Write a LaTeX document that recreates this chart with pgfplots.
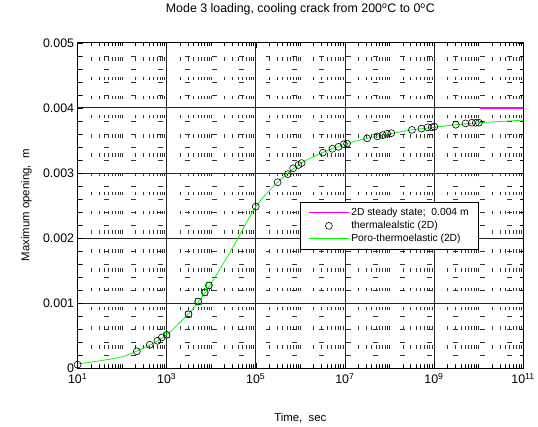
\documentclass[border=0pt]{standalone}
\usepackage{pgfplots}
\pgfplotsset{compat=1.18}
\usepackage{fontspec}
\setmainfont{Liberation Sans}
\definecolor{mymag}{RGB}{255,0,255}
\definecolor{mygrn}{RGB}{0,255,0}
\begin{document}
\begin{tikzpicture}
\begin{axis}[
  at={(0,0)}, anchor=south west,
  scale only axis, width=448bp, height=327bp,
  xmode=log, xmin=1e1, xmax=1e11, ymin=0, ymax=0.005,
  xtick={1e1,1e3,1e5,1e7,1e9,1e11},
  xticklabels={10\textsuperscript{1},10\textsuperscript{3},10\textsuperscript{5},10\textsuperscript{7},10\textsuperscript{9},10\textsuperscript{11}},
  minor xtick={2e1,3e1,4e1,5e1,6e1,7e1,8e1,9e1,1e2,2e2,3e2,4e2,5e2,6e2,7e2,8e2,9e2,
    2e3,3e3,4e3,5e3,6e3,7e3,8e3,9e3,1e4,2e4,3e4,4e4,5e4,6e4,7e4,8e4,9e4,
    2e5,3e5,4e5,5e5,6e5,7e5,8e5,9e5,1e6,2e6,3e6,4e6,5e6,6e6,7e6,8e6,9e6,
    2e7,3e7,4e7,5e7,6e7,7e7,8e7,9e7,1e8,2e8,3e8,4e8,5e8,6e8,7e8,8e8,9e8,
    2e9,3e9,4e9,5e9,6e9,7e9,8e9,9e9,1e10,2e10,3e10,4e10,5e10,6e10,7e10,8e10,9e10},
  ytick={0,0.001,0.002,0.003,0.004,0.005},
  yticklabels={0,0.001,0.002,0.003,0.004,0.005},
  minor ytick={0.0002,0.0004,0.0006,0.0008,0.0012,0.0014,0.0016,0.0018,0.0022,0.0024,0.0026,0.0028,0.0032,0.0034,0.0036,0.0038,0.0042,0.0044,0.0046,0.0048},
  scaled y ticks=false,
  tick align=inside,
  major tick length=5bp, minor tick length=3bp,
  grid=both,
  major grid style={black!85, line width=0.6bp},
  minor x grid style={black!80, line width=0.5bp, dash pattern=on 3.5bp off 15.8bp},
  minor y grid style={black!80, line width=0.5bp, dash pattern=on 5bp off 22bp},
  axis line style={black, line width=0.8bp},
  tick style={black, line width=0.5bp},
  xticklabel style={font=\fontsize{12.5}{14}\selectfont, yshift=-2bp},
  yticklabel style={font=\fontsize{12.5}{14}\selectfont},
  title={Mode 3 loading, cooling crack from 200\textsuperscript{o}C to 0\textsuperscript{o}C},
  title style={font=\fontsize{12.5}{14}\selectfont, at={(axis description cs:0.5,1.085)}, anchor=center},
  xlabel={Time,\ \ sec},
  xlabel style={font=\fontsize{11.5}{13}\selectfont, at={(axis description cs:0.5,-0.155)}, anchor=center},
  ylabel={Maximum opening,\ \ m},
  ylabel style={font=\fontsize{11.5}{13}\selectfont, at={(axis description cs:-0.115,0.5)}, anchor=center},
  legend style={font=\fontsize{10.4}{11.3}\selectfont, at={(axis description cs:0.5,0.511)}, anchor=north west,
    draw=black, line width=0.5bp, fill=white, row sep=0pt, inner xsep=8bp, inner ysep=4.5bp,
    /tikz/every even column/.append style={column sep=8bp}},
  legend cell align=left,
]
\addlegendimage{legend image code/.code={\draw[draw=mymag, line width=1bp] (0bp,0bp) -- (40bp,0bp);}}
\addlegendentry{2D steady state;\ \ 0.004 m}
\addlegendimage{legend image code/.code={\draw[draw=black, line width=0.6bp] (20bp,0bp) circle[radius=3.5bp];}}
\addlegendentry{thermalealstic (2D)}
\addlegendimage{legend image code/.code={\draw[draw=mygrn, line width=0.8bp] (0bp,0bp) -- (40bp,0bp);}}
\addlegendentry{Poro-thermoelastic (2D)}
\addplot[forget plot, mymag, solid, no marks, line width=1.5bp] table {
x y
1.07e10 0.004
2e10 0.004
5e10 0.004
1e11 0.004
};
\addplot[forget plot, draw=mygrn, line width=0.8bp, smooth] coordinates {
(1e1,0.00006) (3.16e1,0.00011) (1e2,0.00017) (2.14e2,0.00026) (4.17e2,0.00035) (1e3,0.00051)
(3.1e3,0.00083) (5.1e3,0.00101) (1e4,0.00130) (3.16e4,0.00187) (1e5,0.00248)
(3.16e5,0.00286) (1e6,0.00314) (3.16e6,0.00331) (1e7,0.00344) (3.16e7,0.00353)
(1e8,0.00360) (3.16e8,0.00366) (1e9,0.00370) (3.16e9,0.00374) (1e10,0.00377)
(3.16e10,0.00379) (1e11,0.00381)};
\addplot[forget plot, only marks, mark=square, mark size=2.8bp, draw=mygrn, mark options={draw=mygrn, line width=0.7bp}] coordinates {
(1e3,0.000509) (3.1e3,0.000826) (5.1e3,0.00102) (7.2e3,0.00116) (8.9e3,0.00127)};
\addplot[forget plot, only marks, mark=o, mark size=3.5bp, draw=black, mark options={draw=black, line width=0.6bp}] coordinates {
(1e1,0.00005) (2.14e2,0.000255) (4.17e2,0.000356) (6.2e2,0.000417) (7.8e2,0.000469) (1e3,0.000509)
(3.1e3,0.000826) (5.1e3,0.00102) (7.2e3,0.00116) (8.9e3,0.00127) (1e5,0.00248)
(3.1e5,0.002855) (5.25e5,0.00298) (6.9e5,0.00307) (9.1e5,0.00312) (1.07e6,0.00315)
(3.2e6,0.00331) (5.25e6,0.00337) (7.2e6,0.00340) (9.5e6,0.00344) (1.12e7,0.00345)
(3.16e7,0.00353) (5.4e7,0.00356) (7.1e7,0.00358) (8.9e7,0.00360) (1.1e8,0.00361)
(3.2e8,0.00366) (5.25e8,0.00368) (7.2e8,0.00370) (8.9e8,0.00370) (1.02e9,0.00371)
(3.1e9,0.00374) (5.1e9,0.00376) (7.1e9,0.00377) (8.7e9,0.00377) (1.02e10,0.00377)};
\end{axis}
\path[use as bounding box] (-78bp,-59bp) rectangle (460bp,370bp);
\end{tikzpicture}
\end{document}
